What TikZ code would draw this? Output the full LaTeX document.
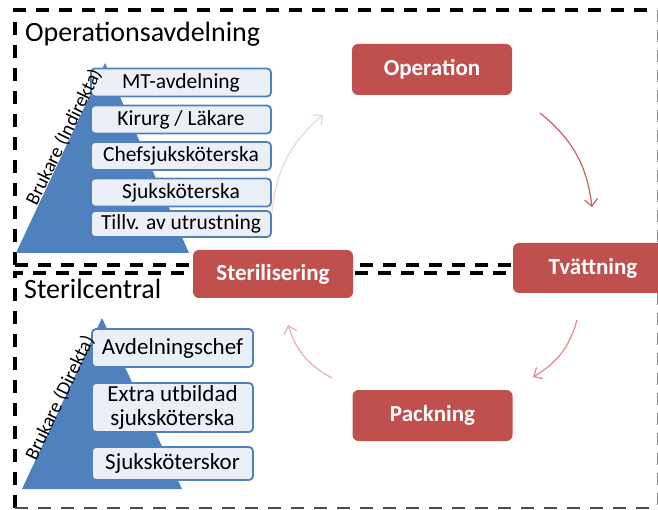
\documentclass[tikz,border=0pt]{standalone}
\usepackage{fontspec}
\setmainfont{Carlito}
\usetikzlibrary{arrows.meta}

\definecolor{pyrblue}{HTML}{4F81BD}
\definecolor{boxfill}{HTML}{EBEFF7}
\definecolor{cyclered}{HTML}{C0504D}

\tikzset{
  tierbox/.style={draw=pyrblue, line width=1.8pt, fill=boxfill, rounded corners=4pt,
    minimum height=28pt, inner sep=0pt, text=black, align=center},
  uppertier/.style={tierbox, minimum width=180pt, font=\fontsize{21.5}{22}\selectfont},
  lowertier/.style={tierbox, minimum width=161pt, font=\fontsize{23}{24}\selectfont},
  stagebox/.style={fill=cyclered, rounded corners=6pt, minimum width=160pt, minimum height=50pt,
    inner sep=0pt, text=white, font=\bfseries\fontsize{23}{26}\selectfont},
  heavydash/.style={line width=3.2pt, dash pattern=on 13pt off 10pt},
  lightdash/.style={line width=1pt, draw=black!45, dash pattern=on 12pt off 8pt},
  flow/.style={line width=1.2pt, -{Straight Barb[length=7pt,width=13pt]}},
  sidelabel/.style={font=\fontsize{19.5}{20}\selectfont, inner sep=0pt},
  areatitle/.style={anchor=base west, inner sep=0pt, font=\fontsize{28}{30}\selectfont},
}

\begin{document}
\begin{tikzpicture}[x=1pt, y=-1pt]
\useasboundingbox (0,0) rectangle (658,510);
\clip (0,0) rectangle (658,510);

% department frames
\draw[heavydash] (15,265) -- (15,10) -- (657,10);
\draw[heavydash] (15,265) -- (657,265);
\draw[lightdash] (657,10) -- (657,265);
\draw[heavydash] (15,508) -- (15,273) -- (657,273);
\draw[lightdash] (657,273) -- (657,508);
\draw[line width=2.4pt, draw=black!70, dash pattern=on 13pt off 10pt] (15,508) -- (657,508);

\node[areatitle] (optitle) at (25,42) {Operationsavdelning};
\node[areatitle] (sttitle) at (24,299) {Sterilcentral};

% user pyramid, operating department
\fill[pyrblue] (105,63) -- (189,253) -- (16,253) -- cycle;
\node[uppertier] (mt)   at (181,82.5)  {MT-avdelning};
\node[uppertier] (kir)  at (181,119.5) {Kirurg / Läkare};
\node[uppertier] (chef) at (181,156)   {Chefsjuksköterska};
\node[uppertier] (sjuk) at (181,192.5) {Sjuksköterska};
\node[uppertier, minimum height=26pt] (till) at (181,224) {Tillv. av utrustning};
\node[sidelabel, rotate=64] (indir) at (64,137) {Brukare (Indirekta)};

% user pyramid, sterile central
\fill[pyrblue] (102,318) -- (182,489) -- (22,489) -- cycle;
\node[lowertier, minimum height=38pt] (avd)   at (172.5,348)   {Avdelningschef};
\node[lowertier, minimum height=49pt] (extra) at (172.5,407.5) {Extra utbildad\\sjuksköterska};
\node[lowertier, minimum height=33pt] (sjkr)  at (172.5,463.5) {Sjuksköterskor};
\node[sidelabel, rotate=64.5] (dir) at (60,398) {Brukare (Direkta)};

% reprocessing cycle
\node[stagebox, minimum height=51pt] (op)   at (432,69.5)  {Operation};
\node[stagebox] (tv)   at (593,268)   {Tvättning};
\node[stagebox, minimum height=51pt] (pack) at (432.5,415.5) {Packning};
\node[stagebox, minimum height=48pt] (ster) at (273,274)   {Sterilisering};

\coordinate (a1s) at (540,113); \coordinate (a1e) at (592,207);
\coordinate (a2s) at (577,320); \coordinate (a2e) at (533,377);
\coordinate (a3s) at (332,378); \coordinate (a3e) at (288,325);
\coordinate (a4s) at (272,212); \coordinate (a4e) at (323,115);

\draw[flow, draw=cyclered!90] (a1s) to[bend left=22] (a1e);
\draw[flow, draw=cyclered!65] (a2s) to[bend left=22] (a2e);
\draw[flow, draw=cyclered!45] (a3s) to[bend left=22] (a3e);
\draw[flow, draw=cyclered!25] (a4s) to[bend left=22] (a4e);
\end{tikzpicture}
\end{document}
